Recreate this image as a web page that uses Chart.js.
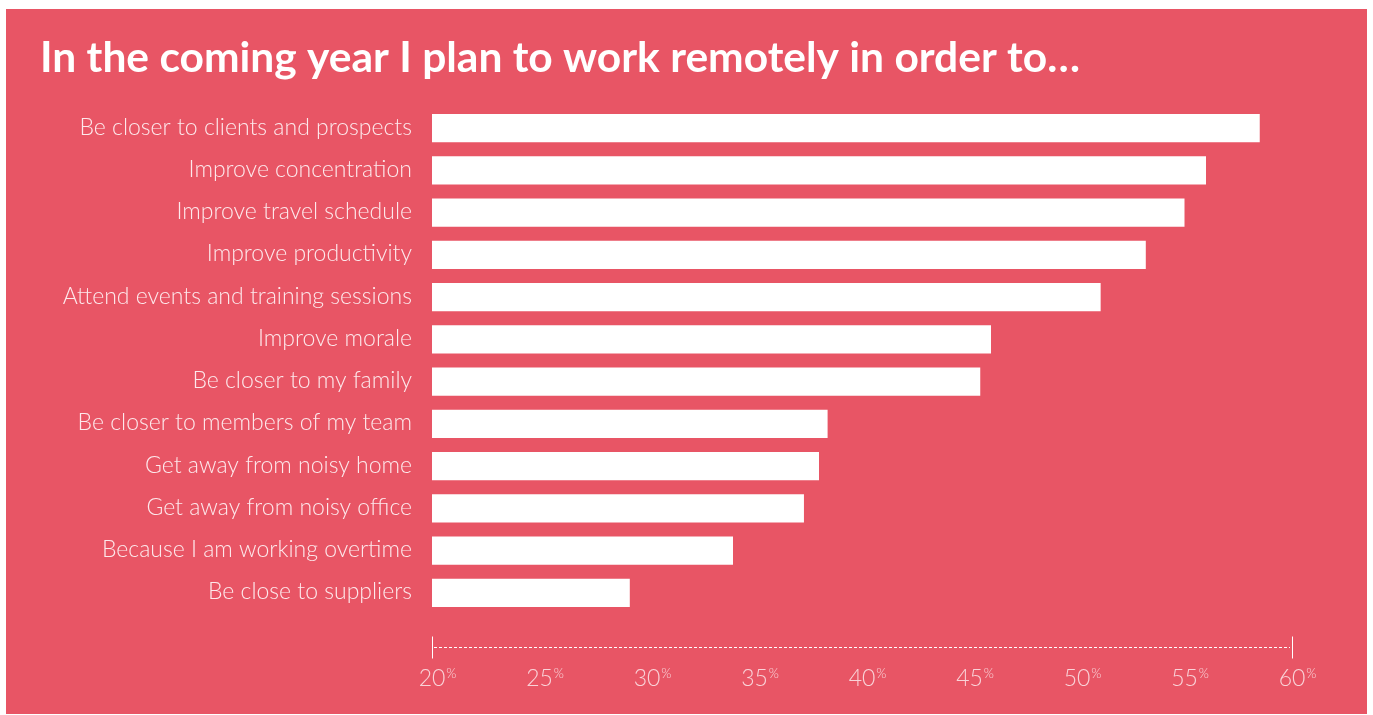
<!DOCTYPE html>
<html>
<head>
<meta charset="utf-8">
<script src="https://cdn.jsdelivr.net/npm/chart.js@4"></script>
<style>
  html, body { margin: 0; padding: 0; background: #ffffff; width: 1373px; height: 715px; overflow: hidden; }
  #box { position: absolute; left: 6px; top: 9px; width: 1361px; height: 705px; background: #E85565; }
  #box canvas { display: block; }
</style>
</head>
<body>
<div id="box"><canvas id="c" width="1361" height="705"></canvas></div>
<script>
const titleText = "In the coming year I plan to work remotely in order to\u2026";
const categories = [
  "Be closer to clients and prospects",
  "Improve concentration",
  "Improve travel schedule",
  "Improve productivity",
  "Attend events and training sessions",
  "Improve morale",
  "Be closer to my family",
  "Be closer to members of my team",
  "Get away from noisy home",
  "Get away from noisy office",
  "Because I am working overtime",
  "Be close to suppliers"
];
const percentages = [58.5, 56, 55, 53.2, 51.1, 46, 45.5, 38.4, 38, 37.3, 34, 29.2];
const tickValues = [20, 25, 30, 35, 40, 45, 50, 55, 60];

const FONT = "Lato";

const decorPlugin = {
  id: 'decor',
  afterDraw(chart) {
    const ctx = chart.ctx;
    const x = chart.scales.x;
    const area = chart.chartArea;
    ctx.save();
    // Title
    ctx.fillStyle = '#ffffff';
    ctx.font = `bold 42.5px ${FONT}`;
    ctx.textAlign = 'left';
    ctx.textBaseline = 'alphabetic';
    ctx.fillText(titleText, 34, 63);

    // Axis (dotted) line
    const axisY = area.bottom + 33.5;
    const x0 = x.getPixelForValue(tickValues[0]);
    const x1 = x.getPixelForValue(tickValues[tickValues.length - 1]);
    ctx.strokeStyle = '#ffffff';
    ctx.lineWidth = 1;
    ctx.setLineDash([3, 2]);
    ctx.beginPath();
    ctx.moveTo(x0 + 2, axisY);
    ctx.lineTo(x1 - 2, axisY);
    ctx.stroke();
    ctx.setLineDash([]);
    ctx.beginPath();
    ctx.moveTo(Math.round(x0) + 0.5, axisY - 11);
    ctx.lineTo(Math.round(x0) + 0.5, axisY + 11);
    ctx.moveTo(Math.round(x1) + 0.5, axisY - 11);
    ctx.lineTo(Math.round(x1) + 0.5, axisY + 11);
    ctx.stroke();

    // Tick labels with superscript %
    ctx.fillStyle = '#f9d3d8';
    const baseY = area.bottom + 71.5;
    tickValues.forEach(v => {
      const px = x.getPixelForValue(v);
      ctx.font = `300 23px ${FONT}`;
      ctx.textAlign = 'center';
      ctx.fillText(String(v), px, baseY);
      const w = ctx.measureText(String(v)).width;
      ctx.font = `300 13px ${FONT}`;
      ctx.textAlign = 'left';
      ctx.fillText('%', px + w / 2 + 1, baseY - 8);
    });
    ctx.restore();
  }
};

new Chart(document.getElementById('c'), {
  type: 'bar',
  data: {
    labels: categories,
    datasets: [{
      data: percentages,
      base: 20,
      backgroundColor: '#ffffff',
      borderWidth: 0,
      categoryPercentage: 1,
      barPercentage: 0.665
    }]
  },
  options: {
    indexAxis: 'y',
    responsive: false,
    animation: false,
    layout: { padding: { top: 98, bottom: 100, left: 0, right: 75 } },
    plugins: { legend: { display: false }, tooltip: { enabled: false }, title: { display: false } },
    scales: {
      x: {
        type: 'linear',
        min: 20,
        max: 60,
        display: false
      },
      y: {
        grid: { display: false, drawTicks: false },
        border: { display: false },
        afterFit(scale) { scale.width = 426; },
        ticks: {
          color: '#fde9ec',
          padding: 20,
          labelOffset: -1,
          font: { family: FONT, size: 23, weight: 300 }
        }
      }
    }
  },
  plugins: [decorPlugin]
});
</script>
</body>
</html>
